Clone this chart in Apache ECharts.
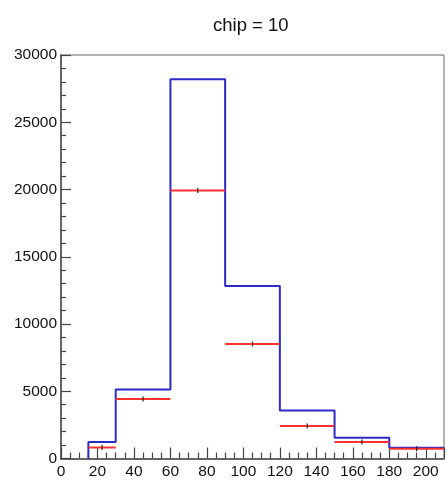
<!DOCTYPE html>
<html><head><meta charset="utf-8">
<script src="https://cdn.jsdelivr.net/npm/echarts@6/dist/echarts.min.js"></script>
<style>html,body{margin:0;padding:0;background:#fff}#c{width:448px;height:484px}</style>
</head><body><div id="c"></div>
<script>
const titleText = 'chip = 10';
const binEdges = [15, 30, 60, 90, 120, 150, 180, 210];
const blueCounts = [1230, 5130, 28200, 12830, 3560, 1550, 790];
const redCounts = [810, 4430, 19920, 8520, 2420, 1230, 730];
const redErrors = [35, 80, 170, 110, 60, 45, 35];
const xTicks = [0, 20, 40, 60, 80, 100, 120, 140, 160, 180, 200];
const yTicks = [0, 5000, 10000, 15000, 20000, 25000, 30000];

const bluePts = [[binEdges[0], 0]];
for (let i = 0; i < blueCounts.length; i++) {
  bluePts.push([binEdges[i], blueCounts[i]]);
  bluePts.push([binEdges[i + 1], blueCounts[i]]);
}
const redData = redCounts.map((v, i) => [binEdges[i], binEdges[i + 1], v, redErrors[i]]);

const font = '"Liberation Sans", Arial, sans-serif';
const chart = echarts.init(document.getElementById('c'), null, {renderer: 'canvas'});
chart.setOption({
  animation: false,
  title: {text: titleText, left: 208, top: 11,
    textStyle: {fontFamily: font, fontSize: 18.5, fontWeight: 'normal', color: '#111'}},
  grid: {left: 61, top: 55, width: 383, height: 403.5, show: true, borderColor: '#666', borderWidth: 1, backgroundColor: 'transparent'},
  xAxis: {type: 'value', min: 0, max: 210, interval: 20,
    axisLine: {show: true, lineStyle: {color: '#666', width: 2}},
    axisTick: {show: true, inside: true, length: 11, lineStyle: {color: '#444', width: 1.2}},
    minorTick: {show: true, splitNumber: 4, length: 6, lineStyle: {color: '#444', width: 1.2}},
    splitLine: {show: false}, minorSplitLine: {show: false},
    axisLabel: {fontFamily: font, fontSize: 15.5, color: '#111', margin: 5,
      formatter: v => xTicks.includes(v) ? String(v) : ''}},
  yAxis: {type: 'value', min: 0, max: 30000, interval: 5000,
    axisLine: {show: true, lineStyle: {color: '#666', width: 2}},
    axisTick: {show: true, inside: true, length: 10, lineStyle: {color: '#444', width: 1.2}},
    minorTick: {show: true, splitNumber: 5, length: 5, lineStyle: {color: '#444', width: 1.2}},
    splitLine: {show: false}, minorSplitLine: {show: false},
    axisLabel: {fontFamily: font, fontSize: 15.5, color: '#111', margin: 4,
      formatter: v => yTicks.includes(v) ? String(v) : ''}},
  series: [
    {type: 'line', data: bluePts, symbol: 'none', lineStyle: {color: '#2a2ac8', width: 2}, z: 3, clip: true},
    {type: 'custom', data: redData, z: 4, clip: true,
      encode: {x: [0, 1], y: 2},
      renderItem: function (params, api) {
        const lo = api.value(0), hi = api.value(1), v = api.value(2), e = api.value(3);
        const p1 = api.coord([lo, v]), p2 = api.coord([hi, v]);
        const c = api.coord([(lo + hi) / 2, v]);
        const t = api.coord([(lo + hi) / 2, v + e]), b = api.coord([(lo + hi) / 2, v - e]);
        return {type: 'group', children: [
          {type: 'line', shape: {x1: p1[0], y1: p1[1], x2: p2[0], y2: p2[1]}, style: {stroke: '#ff3030', lineWidth: 2}},
          {type: 'line', shape: {x1: c[0], y1: Math.min(t[1], c[1] - 2.5), x2: c[0], y2: Math.max(b[1], c[1] + 2.5)}, style: {stroke: '#222', lineWidth: 1.2}}
        ]};
      }}
  ]
});
</script></body></html>
